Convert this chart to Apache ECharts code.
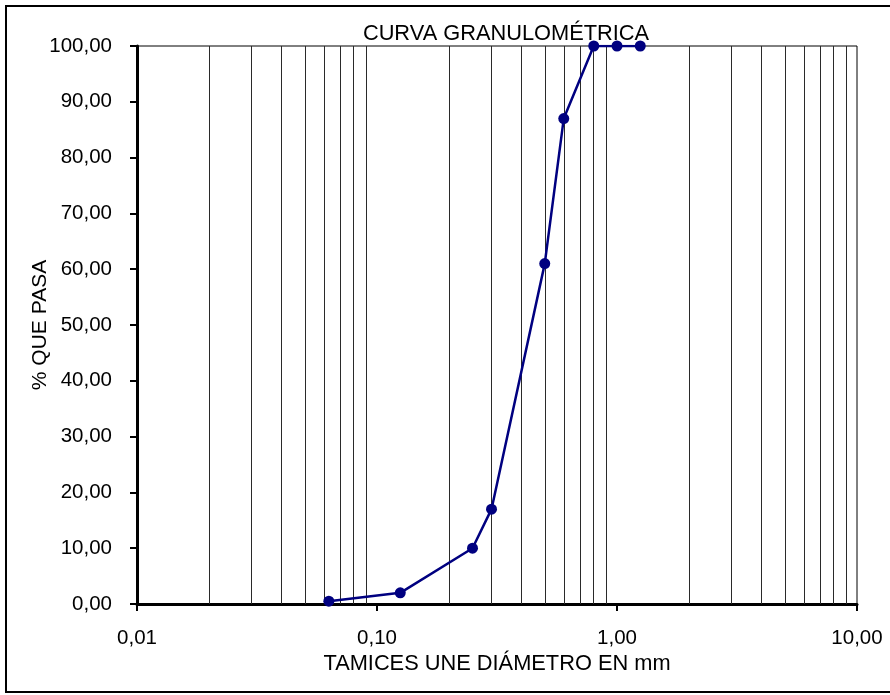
<!DOCTYPE html>
<html>
<head>
<meta charset="utf-8">
<script src="https://cdn.jsdelivr.net/npm/echarts@6/dist/echarts.min.js"></script>
<style>html,body{margin:0;padding:0;background:#fff;}#c{width:890px;height:695px;}</style>
</head>
<body>
<div id="c"></div>
<script>
// Data
const diametros = [0.063, 0.125, 0.25, 0.3, 0.5, 0.6, 0.8, 1.0, 1.25];
const pasa = [0.5, 2.0, 10.0, 17.0, 61.0, 87.0, 100.0, 100.0, 100.0];
const gridX = [0.02,0.03,0.04,0.05,0.06,0.07,0.08,0.09,0.2,0.3,0.4,0.5,0.6,0.7,0.8,0.9,2,3,4,5,6,7,8,9];
const titulo = 'CURVA GRANULOMÉTRICA';
const ejeX = 'TAMICES UNE DIÁMETRO EN mm';
const ejeY = '% QUE PASA';

const FONT = "'Liberation Sans', Arial, sans-serif";
const fmt = v => Number(v).toFixed(2).replace('.', ',');

const chart = echarts.init(document.getElementById('c'));
chart.setOption({
  animation: false,
  backgroundColor: '#fff',
  grid: { left: 137, right: 33, top: 46, bottom: 91, show: true, borderColor: '#000', borderWidth: 1, backgroundColor: 'transparent' },
  graphic: [
    { type: 'rect', shape: { x: 6, y: 6, width: 900, height: 686 }, style: { fill: 'none', stroke: '#000', lineWidth: 2 }, silent: true },
    { type: 'text', x: 506, y: 23, style: { text: titulo, textAlign: 'center', textVerticalAlign: 'top', font: "21.8px " + FONT, fill: '#000' }, silent: true }
  ],
  xAxis: {
    type: 'log', logBase: 10, min: 0.01, max: 10,
    name: ejeX, nameLocation: 'middle', nameGap: 49, nameMoveOverlap: false,
    nameTextStyle: { fontFamily: FONT, fontSize: 21.8, color: '#000' },
    axisLine: { show: true, lineStyle: { color: '#000', width: 3 } },
    axisTick: { show: true, inside: false, length: 7, lineStyle: { color: '#000', width: 2 } },
    axisLabel: { formatter: fmt, fontFamily: FONT, fontSize: 20.5, color: '#000', margin: 24 },
    splitLine: { show: false }, minorTick: { show: false }
  },
  yAxis: {
    type: 'value', min: 0, max: 100, interval: 10,
    name: ejeY, nameLocation: 'middle', nameGap: 86, nameRotate: 90, nameMoveOverlap: false,
    nameTextStyle: { fontFamily: FONT, fontSize: 21, color: '#000' },
    axisLine: { show: true, lineStyle: { color: '#000', width: 3 } },
    axisTick: { show: true, inside: false, length: 7, lineStyle: { color: '#000', width: 2 } },
    axisLabel: { formatter: fmt, fontFamily: FONT, fontSize: 20.5, color: '#000', margin: 25 },
    splitLine: { show: false }
  },
  series: [
    {
      type: 'line', data: [], z: 1, silent: true,
      markLine: {
        silent: true, symbol: 'none', animation: false,
        label: { show: false },
        lineStyle: { color: '#2a2a2a', width: 1, type: 'solid' },
        data: gridX.map(v => ({ xAxis: v }))
      }
    },
    {
      type: 'line', z: 5,
      data: diametros.map((d, i) => [d, pasa[i]]),
      symbol: 'circle', symbolSize: 11,
      lineStyle: { color: '#000080', width: 2.5 },
      itemStyle: { color: '#000080' }
    }
  ]
});
</script>
</body>
</html>
